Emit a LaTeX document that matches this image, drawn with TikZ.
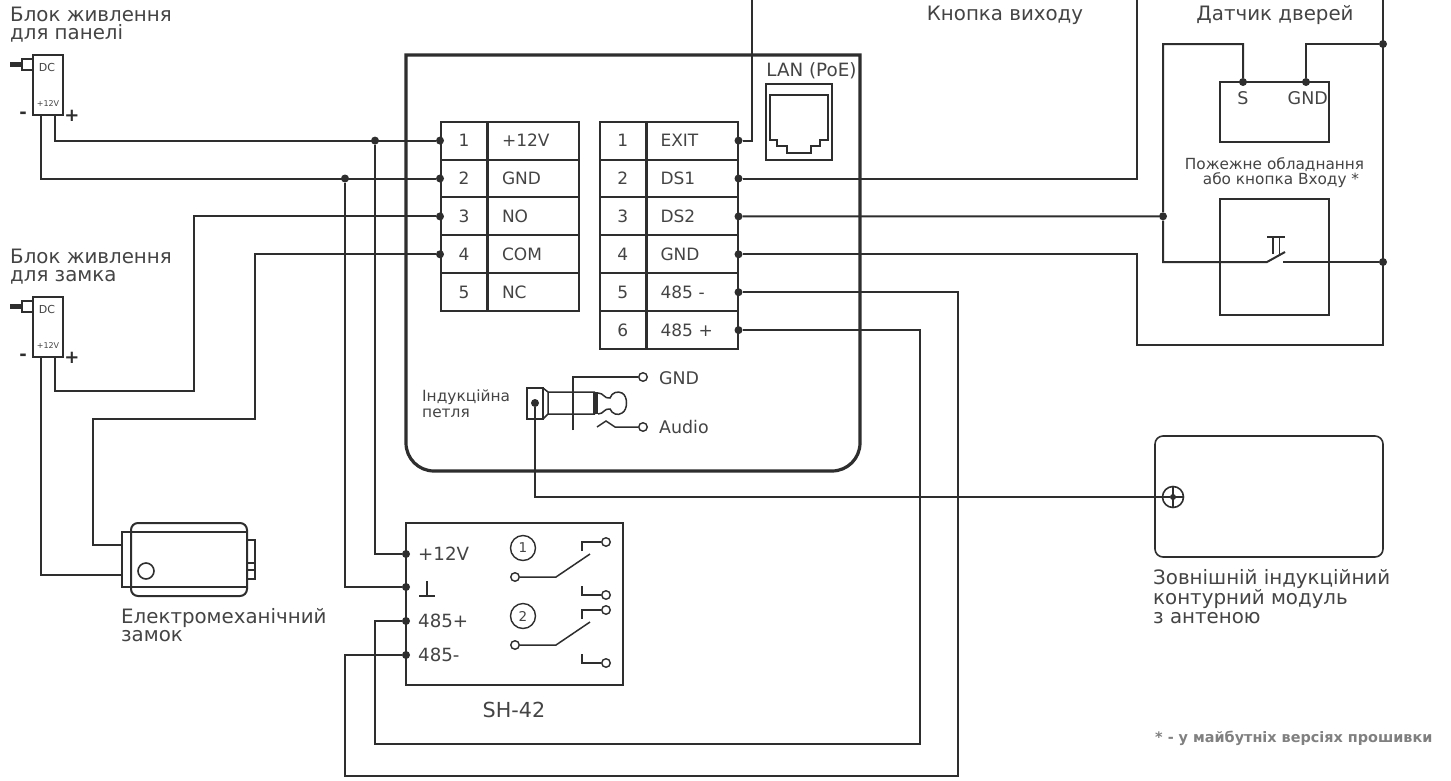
\documentclass[tikz,border=0pt]{standalone}
\usepackage{fontspec}
\setmainfont{DejaVu Sans}
\definecolor{ink}{HTML}{2E2E2E}
\definecolor{txt}{HTML}{444444}
\newcommand{\fs}[1]{\fontsize{#1}{18}\selectfont}
\newcommand{\fsl}[2]{\fontsize{#1}{#2}\selectfont}
\tikzset{
 wire/.style={draw=ink,line width=2pt,line join=miter},
 dotn/.style={circle,fill=ink,inner sep=0pt,minimum size=8pt},
 ocn/.style={circle,draw=ink,line width=1.4pt,fill=white,inner sep=0pt,minimum size=8.5pt},
 lab/.style={text=txt,font=\fs{19.8},inner sep=0pt,align=left,anchor=west},
 labc/.style={text=txt,font=\fs{19.8},inner sep=0pt,align=center},
 small/.style={text=txt,font=\fsl{15.3}{15},inner sep=0pt,align=center},
 numc/.style={draw=ink,line width=2pt,text=txt,font=\fs{17},minimum width=46pt,minimum height=37.9pt,inner sep=0pt},
 namc/.style={draw=ink,line width=2pt,text=txt,font=\fs{17},text width=63pt,inner xsep=14pt,inner ysep=0pt,minimum height=37.9pt,align=left},
 psu/.style={draw=ink,line width=1.6pt,fill=white,minimum width=30pt,minimum height=60pt,inner sep=0pt},
 bx/.style={draw=ink,line width=2pt,inner sep=0pt},
}
\begin{document}
\begin{tikzpicture}[x=1pt,y=-1pt]
\useasboundingbox[fill=white] (0,0) rectangle (1451,780);
% panel
\draw[draw=ink,line width=3.2pt] (406,55) -- (860,55) [rounded corners=28pt] -- (860,471) -- (406,471) [sharp corners] -- cycle;
% terminal tables
\foreach \i/\t in {1/+12V,2/GND,3/NO,4/COM,5/NC}{
 \node[numc] (ln\i) at (464,140.6+37.9*\i-37.9) {\i};
 \node[namc,anchor=west] (lt\i) at (487,140.6+37.9*\i-37.9) {\t};
}
\foreach \i/\t in {1/EXIT,2/DS1,3/DS2,4/GND,5/485 -,6/485 +}{
 \node[numc,minimum width=45.5pt] (rn\i) at (622.8,140.6+37.9*\i-37.9) {\i};
 \node[namc,anchor=west] (rt\i) at (645.5,140.6+37.9*\i-37.9) {\t};
}
% terminal dots
\foreach \i in {1,2,3,4}{\node[dotn] (ld\i) at (ln\i.west) {};}
\foreach \i in {1,2,3,4,5,6}{\node[dotn] (rd\i) at (rt\i.east) {};}
% LAN
\node[draw=ink,line width=1.8pt,minimum width=66pt,minimum height=76pt,inner sep=0pt] (lan) at (799,122) {};
\draw[ink,line width=1.8pt] (770,95) -- (828,95) -- (828,140) -- (820,140) -- (820,146) -- (811,146) -- (811,153) -- (787,153) -- (787,146) -- (777,146) -- (777,140) -- (770,140) -- cycle;
\node[labc,font=\fs{18.3}] (lanl) at (811.5,71) {LAN (PoE)};
% power supplies
\foreach \n/\d in {A/0,B/242}{
 \node[psu] (psu\n) at (48,85+\d) {};
 \draw[ink,line width=1.6pt] (33,59+\d) -- (22,59+\d) -- (22,70+\d) -- (33,70+\d);
 \fill[ink] (10,62+\d) rectangle (22,67+\d);
 \node[text=txt,font=\fs{11},inner sep=0pt] (dc\n) at (47,67.5+\d) {DC};
 \node[text=txt,font=\fs{8},inner sep=0pt] (vv\n) at (48,104+\d) {+12V};
 \node[text=ink,font=\bfseries\fs{18},inner sep=0pt] (mi\n) at (23,115+\d) {-};
 \node[text=ink,font=\bfseries\fs{18},inner sep=0pt] (pl\n) at (72,115.5+\d) {+};
 \coordinate (pm\n) at (41,115+\d);
 \coordinate (pp\n) at (55,115+\d);
}
\node[lab] (tA) at (10,25) {Блок живлення\\для панелі};
\node[lab] (tB) at (10,267) {Блок живлення\\для замка};
% wires left
\draw[wire] (ppA) |- (ld1);
\draw[wire] (pmA) |- (ld2);
\draw[wire] (ld3) -| (194,391) -- (55,391) -- (ppB);
\draw[wire] (ld4) -| (255,419) -- (93,419) -- (93,545) -- (122,545) coordinate (lockA);
\draw[wire] (pmB) -- (41,575) -- (122,575) coordinate (lockB);
% SH-42
\node[bx,line width=2.4pt,minimum width=217pt,minimum height=162pt] (sh) at (514.5,604) {};
\node[dotn] (sa) at (406,554) {};
\node[dotn] (sb) at (406,587) {};
\node[dotn] (sc) at (406,621) {};
\node[dotn] (sd) at (406,655) {};
\node[dotn] (j1) at (375,140.6) {};
\node[dotn] (j2) at (345,178.5) {};
\draw[wire] (j1) |- (sa);
\draw[wire] (j2) |- (sb);
\draw[wire] (rd6) -| (920,744) -- (375,744) |- (sc);
\draw[wire] (rd5) -| (958,776) -- (345,776) |- (sd);
\foreach \n/\t/\y in {a/+12V/554,c/485+/621,d/485-/655}{\node[lab,font=\fs{18.2}] (sl\n) at (418,\y) {\t};}
\draw[ink,line width=1.6pt] (419,596) -- (435,596) (427,581) -- (427,596);
\foreach \k/\d in {1/0,2/68}{
 \node[circle,draw=ink,line width=1.4pt,minimum size=25pt,inner sep=0pt,text=txt,font=\fs{13.5}] (cn\k) at (523,548+\d) {\k};
 \node[ocn] (ca\k) at (515,577+\d) {};
 \node[ocn] (cb\k) at (606,542+\d) {};
 \node[ocn] (cc\k) at (606,595+\d) {};
 \draw[ink,line width=1.5pt] (ca\k) -- (556,577+\d) -- (590,554+\d);
 \draw[ink,line width=1.5pt] (582,551+\d) -- (582,542+\d) -- (cb\k);
 \draw[ink,line width=1.5pt] (582,586+\d) -- (582,595+\d) -- (cc\k);
}
\node[labc,font=\fs{20.7}] (shl) at (514,710) {SH-42};
% lock
\draw[ink,line width=1.6pt] (122,532) rectangle (247,587);
\draw[ink,line width=2pt,rounded corners=7pt] (131,523) rectangle (247,596);
\draw[ink,line width=1.6pt] (247,540) rectangle (255,579) (247,563) -- (255,563) (247,570) -- (255,570);
\node[circle,draw=ink,line width=1.6pt,minimum size=16pt,inner sep=0pt] (lockc) at (146,571) {};
\node[lab] (lockt) at (121,625) {Електромеханічний\\замок};
% right wires
\node[dotn] (j3) at (1163,216.3) {};
\node[bx,minimum width=109pt,minimum height=60pt] (sens) at (1274.5,112) {};
\node[dotn] (ss) at (1243,82) {};
\node[dotn] (sg) at (1306,82) {};
\node[dotn] (j4) at (1383,44) {};
\node[dotn] (j5) at (1383,262) {};
\coordinate (topx) at (752,0);
\coordinate (topd) at (1137,0);
\coordinate (topg) at (1383,0);
\draw[wire] (rd1) -| (topx);
\draw[wire] (rd2) -| (topd);
\draw[wire] (rd3) -- (j3);
\draw[wire] (rd4) -| (1137,345) -- (1383,345) -- (topg);
\draw[wire] (ss) -- (1243,44) -- (1163,44) -- (j3) -- (1163,262) -- (1267,262) coordinate (swa) -- (1285,252);
\draw[wire] (sg) -- (1306,44) -- (j4);
\coordinate (swb) at (1283,262);
\draw[wire] (swb) -- (j5);
\node[inner sep=0pt,text=txt,font=\fs{17.5}] (sll) at (1243,98) {S};
\node[inner sep=0pt,text=txt,font=\fs{17.5},anchor=east] (sgl) at (1328,98) {GND};
\node[small] (fire) at (1274.5,172.5) {Пожежне обладнання\\\hspace*{13pt}або кнопка Входу *};
\node[bx,minimum width=109pt,minimum height=116pt] (firebox) at (1274.5,257) {};
\draw[ink,line width=1.6pt] (1267,237) -- (1285,237) (1273,237) -- (1273,254) (1279.5,237) -- (1279.5,254);
% top labels
\node[labc] (exl) at (1005,15) {Кнопка виходу};
\node[labc] (dsl) at (1275,15) {Датчик дверей};
% jack
\draw[ink,line width=1.5pt,fill=white] (527,388) rectangle (543,419);
\draw[ink,line width=1.5pt] (543,388) -- (548,392) -- (595,392) (543,419) -- (548,414) -- (595,414) (548,392) -- (548,414);
\fill[ink] (593,392) rectangle (598,414);
\draw[ink,line width=1.5pt] (598,393) .. controls (604,393) and (604,399) .. (610,398) .. controls (612,392) and (618,391) .. (622,393) .. controls (628,396) and (628,410) .. (622,413) .. controls (618,416) and (612,414) .. (610,409) .. controls (604,408) and (604,414) .. (598,414);
\node[ocn] (og) at (643,377) {};
\node[ocn] (oa) at (643,427) {};
\draw[ink,line width=1.5pt] (573,430) -- (573,377) -- (og);
\draw[ink,line width=1.5pt] (597,427) -- (606,421) -- (615,427) -- (oa);
\node[lab,font=\fs{17.4}] (gl) at (659,378) {GND};
\node[lab,font=\fs{17.4}] (al) at (659,427) {Audio};
\node[lab,font=\fsl{15.4}{16}] (petl) at (422,404) {Індукційна\\петля};
% external module
\node[draw=ink,line width=1.6pt,rounded corners=8pt,minimum width=228pt,minimum height=121pt,inner sep=0pt] (ext) at (1269,496.5) {};
\node[circle,draw=ink,line width=1.6pt,minimum size=21pt,inner sep=0pt] (ant) at (1173,497) {};
\node[dotn,minimum size=6pt] (antd) at (1173,497) {};
\draw[ink,line width=1.4pt] (1173,486.5) -- (1173,507.5) (1173,497) -- (1183.5,497);
\node[dotn] (jd) at (535,403) {};
\draw[wire,line width=1.6pt] (jd) |- (antd);
\node[lab,font=\fsl{19.8}{19.5}] (extl) at (1153,597) {Зовнішній індукційний\\контурний модуль\\з антеною};
\node[lab,font=\bfseries\fs{14.4},text=gray] (note) at (1155,738) {* - у майбутніх версіях прошивки};
\end{tikzpicture}
\end{document}
